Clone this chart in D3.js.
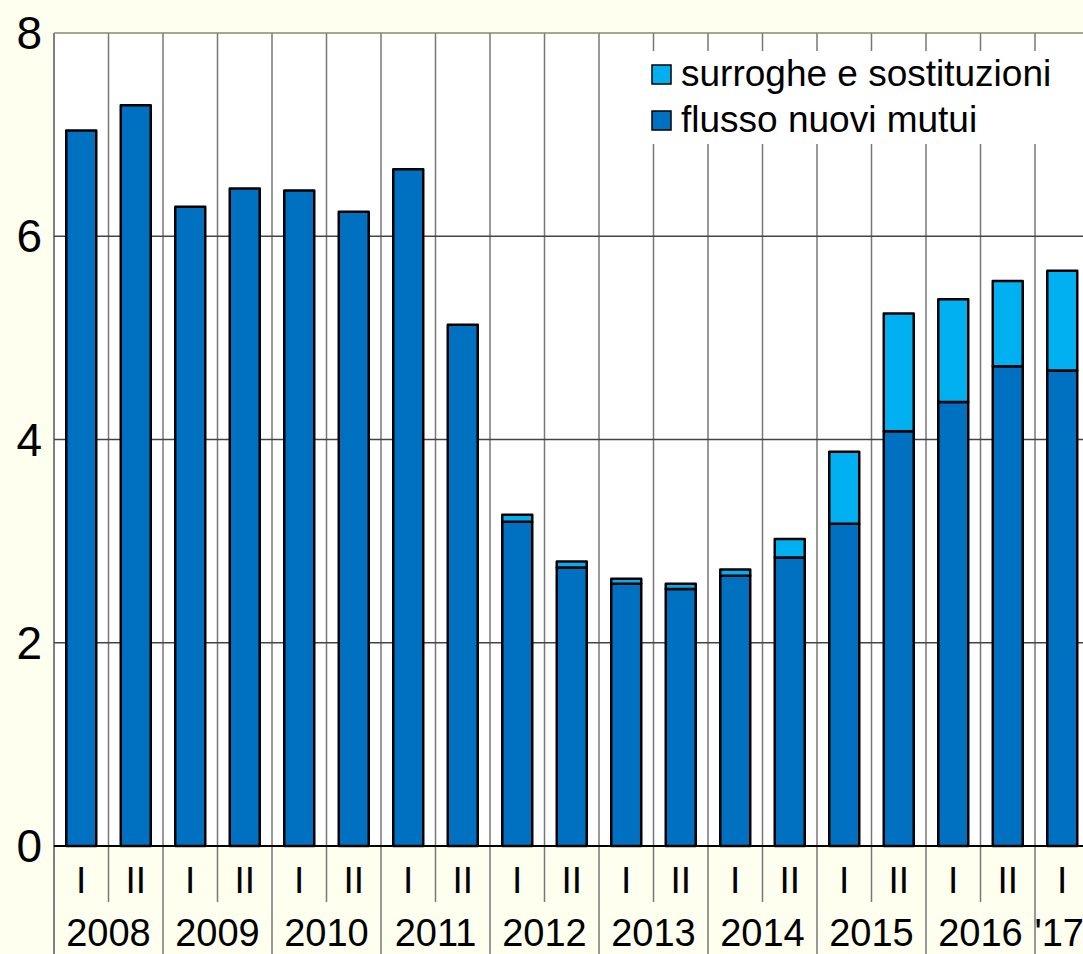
<!DOCTYPE html>
<html>
<head>
<meta charset="utf-8">
<script src="https://cdn.jsdelivr.net/npm/d3@7"></script>
<style>
  html, body { margin: 0; padding: 0; background: #fffff0; }
  svg { display: block; font-family: "Liberation Sans", Arial, sans-serif; }
</style>
</head>
<body>
<svg id="chart" width="1083" height="954"></svg>
<script>
// ---- data ----
const halves = ["I","II","I","II","I","II","I","II","I","II","I","II","I","II","I","II","I","II","I"];
const years = ["2008","2009","2010","2011","2012","2013","2014","2015","2016","'17"];
const flusso   = [7.04, 7.29, 6.29, 6.47, 6.45, 6.24, 6.66, 5.13, 3.19, 2.74, 2.58, 2.53, 2.66, 2.84, 3.17, 4.08, 4.37, 4.72, 4.68];
const surroghe = [0, 0, 0, 0, 0, 0, 0, 0, 0.07, 0.06, 0.05, 0.05, 0.06, 0.18, 0.71, 1.16, 1.01, 0.84, 0.98];
const yTicks = [0, 2, 4, 6, 8];
const seriesNames = ["flusso nuovi mutui", "surroghe e sostituzioni"];
const colors = {"flusso nuovi mutui": "#0070c0", "surroghe e sostituzioni": "#00b0f0"};

(function () {
// ---- layout ----
const W = 1083, H = 954;
const pLeft = 54, pTop = 33, pBottom = 846;
const step = 54.5;
const n = halves.length;
const pRight = pLeft + n * step;

const svg = d3.select("#chart");

const idx = d3.range(n);
const x = d3.scaleBand().domain(idx).range([pLeft, pRight]).paddingInner(0.45).paddingOuter(0.225);
const y = d3.scaleLinear().domain([0, 8]).range([pBottom, pTop]);

// plot background
svg.append("rect").attr("x", pLeft).attr("y", pTop).attr("width", pRight - pLeft).attr("height", pBottom - pTop).attr("fill", "#ffffff");

// vertical grid lines (category boundaries)
const bounds = d3.range(n + 1);
svg.append("g").selectAll("line").data(bounds).join("line")
  .attr("x1", i => pLeft + i * x.step()).attr("x2", i => pLeft + i * x.step())
  .attr("y1", pTop)
  .attr("y2", i => (i % 2 === 0) ? H : pBottom + 56)
  .attr("stroke", i => i === 0 ? "#555" : "#777")
  .attr("stroke-width", 1.5);

// horizontal grid lines
svg.append("g").selectAll("line").data(yTicks.filter(t => t > 0)).join("line")
  .attr("x1", pLeft).attr("x2", W)
  .attr("y1", d => y(d)).attr("y2", d => y(d))
  .attr("stroke", d => d === 8 ? "#8a8a70" : "#444")
  .attr("stroke-width", 1.3);

// stacked bars
const table = idx.map(i => ({ i, "flusso nuovi mutui": flusso[i], "surroghe e sostituzioni": surroghe[i] }));
const stack = d3.stack().keys(seriesNames)(table);
svg.append("g").selectAll("g").data(stack).join("g")
  .attr("fill", d => colors[d.key])
  .selectAll("rect").data(d => d.filter(p => p[1] - p[0] > 0)).join("rect")
  .attr("x", d => x(d.data.i))
  .attr("width", x.bandwidth())
  .attr("y", d => y(d[1]))
  .attr("height", d => y(d[0]) - y(d[1]))
  .attr("stroke", "#000")
  .attr("stroke-width", 2.5)
  .attr("stroke-linejoin", "round");

// zero axis line
svg.append("line").attr("x1", pLeft).attr("x2", W).attr("y1", pBottom).attr("y2", pBottom)
  .attr("stroke", "#000").attr("stroke-width", 2);

// y tick labels
svg.append("g").selectAll("text").data(yTicks).join("text")
  .attr("x", 42).attr("y", d => y(d) + 16)
  .attr("text-anchor", "end")
  .attr("font-size", 46)
  .attr("fill", "#000")
  .text(d => d);

// half-year labels
svg.append("g").selectAll("text").data(idx).join("text")
  .attr("x", i => x(i) + x.bandwidth() / 2)
  .attr("y", 893)
  .attr("text-anchor", "middle")
  .attr("font-size", 37)
  .attr("fill", "#000")
  .text(i => halves[i]);

// year labels
svg.append("g").selectAll("text").data(years).join("text")
  .attr("x", (d, k) => {
    const a = pLeft + 2 * k * x.step();
    const b = Math.min(pLeft + (2 * k + 2) * x.step(), pRight);
    return k === years.length - 1 ? a + x.step() / 2 - 3 : (a + b) / 2;
  })
  .attr("y", 946)
  .attr("text-anchor", "middle")
  .attr("font-size", 38)
  .attr("fill", "#000")
  .text(d => d);

// legend
const lg = svg.append("g");
lg.append("rect").attr("x", 630).attr("y", 51).attr("width", W - 630).attr("height", 93).attr("fill", "#ffffff");
const legendItems = ["surroghe e sostituzioni", "flusso nuovi mutui"];
legendItems.forEach((name, k) => {
  const by = 86 + k * 46;
  lg.append("rect").attr("x", 652).attr("y", by - 21).attr("width", 19).attr("height", 19)
    .attr("fill", colors[name]).attr("stroke", "#000").attr("stroke-width", 1.5);
  lg.append("text").attr("x", 681).attr("y", by).attr("font-size", 37).attr("fill", "#000").text(name);
});
})();
</script>
</body>
</html>
